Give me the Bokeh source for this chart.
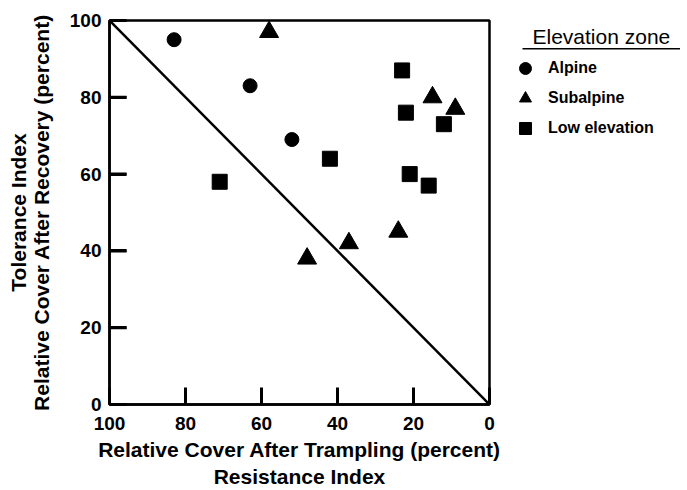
from bokeh.plotting import figure
from bokeh.layouts import row
from bokeh.models import Range1d, Legend, LegendItem, FixedTicker, BoxAnnotation, Label
from bokeh.embed import file_html
from bokeh.resources import INLINE

# Data: resistance index (x, reversed) and tolerance index (y)
alpine_x = [83, 63, 52]
alpine_y = [95, 83, 69]
subalpine_x = [58, 15, 9, 48, 37, 24]
subalpine_y = [97, 80, 77, 38, 42, 45]
low_x = [23, 22, 12, 42, 21, 16, 71]
low_y = [87, 76, 73, 64, 60, 57, 58]
diag_x = [100, 0]
diag_y = [100, 0]
ticks = [0, 20, 40, 60, 80, 100]
series_names = ["Alpine", "Subalpine", "Low elevation"]
legend_title = "Elevation zone"

FONT = "Liberation Sans"
X_START, X_END = 100, 0
Y_START, Y_END = 0, 100
TICK_X_LEN = 4.5   # inward tick length (data units along x)
TICK_Y_LEN = 4.2   # inward tick length (data units along y)

p = figure(width=509, height=485, output_backend="svg", toolbar_location=None,
           x_range=Range1d(X_START, X_END), y_range=Range1d(Y_START, Y_END),
           frame_width=380, frame_height=384,
           min_border_left=109, min_border_top=19, min_border_right=20, min_border_bottom=82)

p.grid.visible = False
p.outline_line_color = "black"
p.outline_line_width = 2.5

# inward ticks, drawn as segments from the axis edges
n = len(ticks)
p.segment(x0=[X_START] * n, y0=list(ticks), x1=[X_START - TICK_X_LEN] * n, y1=list(ticks),
          line_color="black", line_width=3)
p.segment(x0=list(ticks), y0=[Y_START] * n, x1=list(ticks), y1=[Y_START + TICK_Y_LEN] * n,
          line_color="black", line_width=3)

p.line(diag_x, diag_y, line_color="black", line_width=2.5)
r_a = p.scatter(alpine_x, alpine_y, marker="circle", size=14, color="black")
r_s = p.scatter(subalpine_x, subalpine_y, marker="triangle", size=19, color="black")
r_l = p.scatter(low_x, low_y, marker="square", size=15, color="black")

for ax in (p.xaxis[0], p.yaxis[0]):
    ax.ticker = FixedTicker(ticks=list(ticks))
    ax.minor_tick_line_color = None
    ax.major_tick_line_color = "black"
    ax.major_tick_line_width = 3
    ax.major_tick_in = 17
    ax.major_tick_out = 0
    ax.axis_line_width = 2.5
    ax.axis_line_color = "black"
    ax.major_label_text_font = FONT
    ax.major_label_text_font_style = "bold"
    ax.major_label_text_font_size = "19px"
    ax.major_label_text_color = "black"
    ax.axis_label_text_font = FONT
    ax.axis_label_text_font_style = "bold"
    ax.axis_label_text_font_size = "21px"
    ax.axis_label_text_color = "black"

p.xaxis[0].axis_label = "Relative Cover After Trampling (percent)\nResistance Index"
p.yaxis[0].axis_label = "Tolerance Index\nRelative Cover After Recovery (percent)"
p.yaxis[0].axis_label_text_line_height = 1.0
p.xaxis[0].major_label_standoff = 12
p.yaxis[0].major_label_standoff = 8
p.xaxis[0].axis_label_standoff = 5
p.yaxis[0].axis_label_standoff = 14

# legend panel
q = figure(width=171, height=485, output_backend="svg", toolbar_location=None,
           x_range=Range1d(0, 171), y_range=Range1d(0, 465),
           frame_width=171, frame_height=465,
           x_axis_type=None, y_axis_type=None,
           min_border_left=0, min_border_right=0, min_border_top=20, min_border_bottom=0)
q.grid.visible = False
q.outline_line_color = None

qa = q.scatter(alpine_x, alpine_y, marker="circle", size=14, color="black", visible=False)
qs = q.scatter(subalpine_x, subalpine_y, marker="triangle", size=19, color="black", visible=False)
ql = q.scatter(low_x, low_y, marker="square", size=15, color="black", visible=False)

legend = Legend(items=[
    LegendItem(label=series_names[0], renderers=[qa]),
    LegendItem(label=series_names[1], renderers=[qs]),
    LegendItem(label=series_names[2], renderers=[ql]),
], location="top_left", title=" ")
legend.title_text_font_size = "18px"
legend.title_standoff = 12
legend.label_text_font = FONT
legend.label_text_font_size = "16px"
legend.label_text_font_style = "bold"
legend.label_text_color = "black"
legend.border_line_color = None
legend.background_fill_alpha = 0
legend.glyph_width = 32
legend.glyph_height = 30
legend.label_height = 30
legend.label_standoff = 7
legend.spacing = 0
legend.padding = 4
legend.margin = 0
q.add_layout(legend, "center")

q.add_layout(Label(x=23, y=449, text=legend_title,
                   text_font=FONT, text_font_size="21px", text_color="black",
                   text_baseline="middle", text_align="left"))
q.add_layout(BoxAnnotation(left=13, right=171, top=437.5, bottom=436,
                           fill_color="black", fill_alpha=1, line_color=None))

layout = row(p, q, spacing=0)
open("out.html", "w").write(file_html(layout, INLINE))
